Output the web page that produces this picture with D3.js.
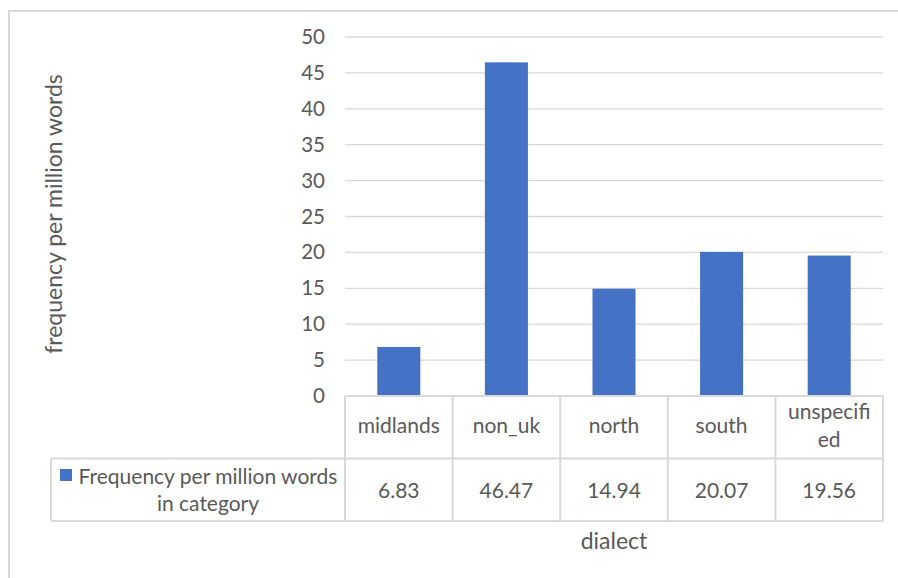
<!DOCTYPE html>
<html>
<head>
<meta charset="utf-8">
<script src="https://cdn.jsdelivr.net/npm/d3@7"></script>
<style>
  html, body { margin: 0; padding: 0; background: #fff; }
  svg { display: block; }
  text { font-family: Lato, "Liberation Sans", sans-serif; fill: #595959; }
</style>
</head>
<body>
<div id="chart"></div>
<script>
// Dialect frequencies (per million words)
const categories = ["midlands", "non_uk", "north", "south", "unspecified"];
const categoryLines = [["midlands"], ["non_uk"], ["north"], ["south"], ["unspecifi", "ed"]];
const values = [6.83, 46.47, 14.94, 20.07, 19.56];
const valueLabels = ["6.83", "46.47", "14.94", "20.07", "19.56"];
const yTicks = [0, 5, 10, 15, 20, 25, 30, 35, 40, 45, 50];
const seriesName = ["Frequency per million words", "in category"];
const yTitle = "frequency per million words";
const xTitle = "dialect";

const W = 898, H = 578;
const plot = { left: 345, right: 883, top: 37, bottom: 396 };
const rowH = 62.5;
const gridColor = "#d9d9d9";
const barColor = "#4472c4";
const tableFont = "21px";

const svg = d3.select("#chart").append("svg").attr("width", W).attr("height", H);

// chart area frame
svg.append("rect")
  .attr("x", 9).attr("y", 11).attr("width", W + 20).attr("height", H + 20)
  .attr("fill", "none").attr("stroke", gridColor).attr("stroke-width", 2);

const x = d3.scaleBand().domain(categories).range([plot.left, plot.right]).paddingInner(0.6).paddingOuter(0.3);
const band = d3.scaleBand().domain(categories).range([plot.left, plot.right]);
const y = d3.scaleLinear().domain([0, 50]).range([plot.bottom, plot.top]);

// tick labels via axis
const yAxis = d3.axisLeft(y).tickValues(yTicks).tickSize(0).tickPadding(20);
const gAxis = svg.append("g").attr("transform", `translate(${plot.left},0)`).call(yAxis);
gAxis.select(".domain").remove();
gAxis.selectAll("text").style("font-size", "20.5px").attr("fill", "#595959")
  .style("font-family", "Lato, 'Liberation Sans', sans-serif");

// horizontal gridlines
svg.append("g").selectAll("line").data(yTicks.filter(d => d > 0)).join("line")
  .attr("x1", plot.left).attr("x2", plot.right)
  .attr("y1", d => y(d)).attr("y2", d => y(d))
  .attr("stroke", gridColor).attr("stroke-width", 1.3);

// bars
svg.append("g").selectAll("rect").data(values).join("rect")
  .attr("x", (d, i) => x(categories[i]))
  .attr("width", x.bandwidth())
  .attr("y", d => y(d))
  .attr("height", d => y(0) - y(d))
  .attr("fill", barColor);

// data table grid
const t0 = plot.bottom, t1 = t0 + rowH, t2 = t1 + rowH;
const tbl = svg.append("g").attr("stroke", gridColor).attr("stroke-width", 2).attr("fill", "none");
tbl.append("line").attr("x1", plot.left).attr("x2", plot.right).attr("y1", t0).attr("y2", t0);
tbl.append("line").attr("x1", 51).attr("x2", plot.right).attr("y1", t1).attr("y2", t1);
tbl.append("line").attr("x1", 51).attr("x2", plot.right).attr("y1", t2).attr("y2", t2);
tbl.append("line").attr("x1", 51).attr("x2", 51).attr("y1", t1).attr("y2", t2);
tbl.selectAll("line.col").data(categories.concat(["end"])).join("line").attr("class", "col")
  .attr("x1", (d, i) => plot.left + i * band.bandwidth())
  .attr("x2", (d, i) => plot.left + i * band.bandwidth())
  .attr("y1", t0).attr("y2", t2);

// category header cells
const hdr = svg.append("g").selectAll("text").data(categoryLines).join("text")
  .attr("x", (d, i) => band(categories[i]) + band.bandwidth() / 2)
  .attr("text-anchor", "middle")
  .style("font-size", tableFont);
hdr.each(function (lines) {
  const el = d3.select(this);
  const startY = lines.length === 1 ? t0 + 37 : t0 + 23;
  lines.forEach((ln, k) => el.append("tspan")
    .attr("x", el.attr("x")).attr("y", startY + k * 28).text(ln));
});

// value cells
svg.append("g").selectAll("text").data(valueLabels).join("text")
  .attr("x", (d, i) => band(categories[i]) + band.bandwidth() / 2)
  .attr("y", t1 + 39)
  .attr("text-anchor", "middle")
  .style("font-size", tableFont)
  .text(d => d);

// legend key cell
svg.append("rect").attr("x", 60).attr("y", 469).attr("width", 12).attr("height", 12).attr("fill", barColor);
const lg = svg.append("text").attr("text-anchor", "middle").style("font-size", tableFont);
lg.append("tspan").attr("x", 208).attr("y", t1 + 25).text(seriesName[0]);
lg.append("tspan").attr("x", 208).attr("y", t1 + 52).text(seriesName[1]);

// axis titles
svg.append("text")
  .attr("transform", "translate(62,214) rotate(-90)")
  .attr("text-anchor", "middle")
  .style("font-size", "23px")
  .text(yTitle);

svg.append("text")
  .attr("x", 614).attr("y", 549)
  .attr("text-anchor", "middle")
  .style("font-size", "23px")
  .text(xTitle);
</script>
</body>
</html>
